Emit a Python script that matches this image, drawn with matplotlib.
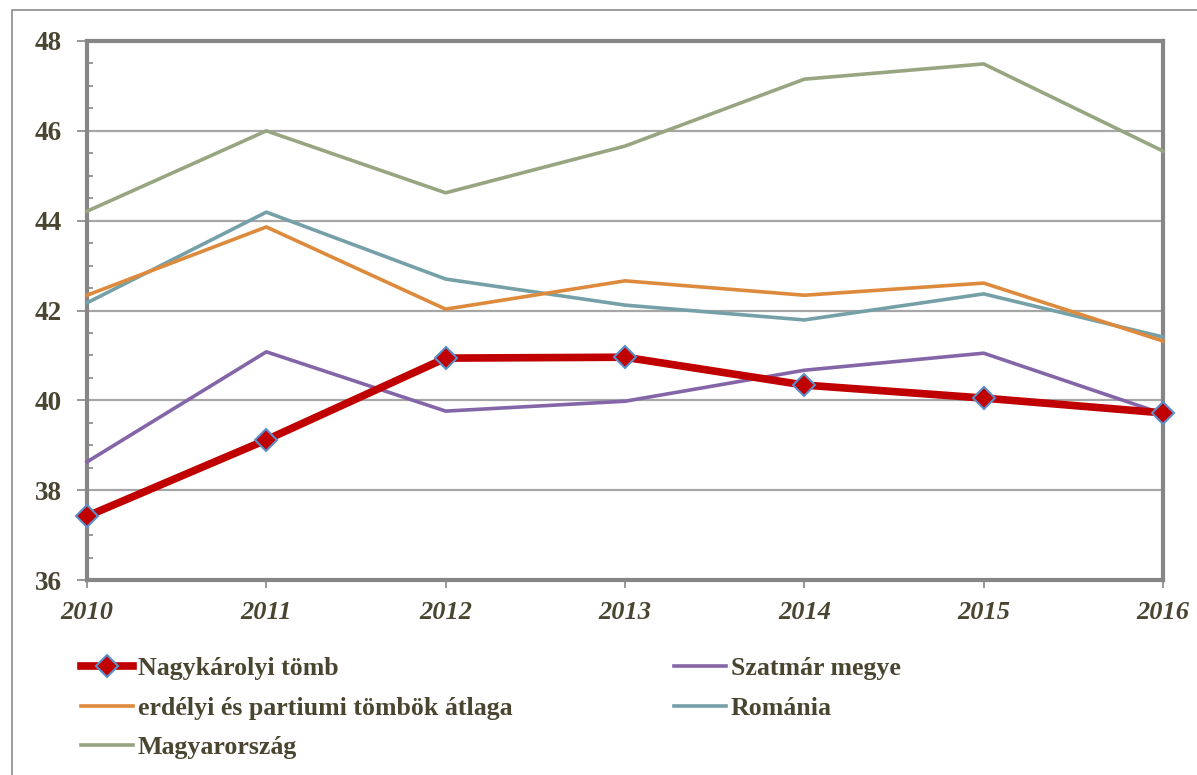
import matplotlib
matplotlib.use("Agg")
import matplotlib.pyplot as plt
from matplotlib.patches import Rectangle
from matplotlib.ticker import MultipleLocator

years = [2010, 2011, 2012, 2013, 2014, 2015, 2016]
nagykaroly = [37.42, 39.12, 40.94, 40.96, 40.34, 40.05, 39.72]
szatmar = [38.63, 41.08, 39.76, 39.98, 40.67, 41.05, 39.70]
erdelyi = [42.34, 43.86, 42.03, 42.66, 42.34, 42.61, 41.32]
romania = [42.17, 44.19, 42.70, 42.12, 41.79, 42.37, 41.41]
magyar = [44.21, 46.00, 44.62, 45.66, 47.15, 47.49, 45.55]

labels = ["Nagykárolyi tömb", "Szatmár megye", "erdélyi és partiumi tömbök átlaga",
          "Románia", "Magyarország"]

txt = "#4A4530"
plt.rcParams['font.family'] = ['Liberation Serif', 'DejaVu Serif']

W, H = 1197, 775
fig = plt.figure(figsize=(W / 100, H / 100), dpi=100)
ax = fig.add_axes([87 / W, (H - 580) / H, (1163 - 87) / W, (580 - 41) / H])

# outer frame
fig.patches.append(Rectangle((12 / W, -0.1), 1.2, 1.1 - 10 / H, transform=fig.transFigure,
                             fill=False, edgecolor="#8C8C8C", linewidth=1.2, clip_on=False))

l_mag, = ax.plot(years, magyar, color="#97A581", lw=2.6, clip_on=False, zorder=3)
l_rom, = ax.plot(years, romania, color="#75A0A8", lw=2.6, clip_on=False, zorder=4)
l_erd, = ax.plot(years, erdelyi, color="#DD8A3C", lw=2.6, clip_on=False, zorder=5)
l_sza, = ax.plot(years, szatmar, color="#8466A8", lw=2.6, clip_on=False, zorder=6)
l_nag, = ax.plot(years, nagykaroly, color="#C00000", lw=5.5, marker="D", markersize=11.5,
                 markerfacecolor="#C00000", markeredgecolor="#5B8FCB", markeredgewidth=1.5,
                 clip_on=False, zorder=7)

ax.set_xlim(2010, 2016)
ax.set_ylim(36, 48)
ax.yaxis.set_major_locator(MultipleLocator(2))
ax.yaxis.set_minor_locator(MultipleLocator(0.5))
ax.set_xticks(years)
ax.set_xticklabels([str(y) for y in years])
ax.grid(axis='y', which='major', color="#A6A6A6", linewidth=1.6, zorder=1)
ax.set_axisbelow(True)

for s in ax.spines.values():
    s.set_color("#868686")
    s.set_linewidth(3)

ax.tick_params(axis='y', which='major', direction='out', length=7, width=1.2, color="#868686",
               pad=11, labelsize=19.5, labelcolor=txt)
ax.tick_params(axis='y', which='minor', direction='in', length=4, width=1.2, color="#868686")
ax.tick_params(axis='x', which='major', direction='out', length=6, width=1.2, color="#868686",
               pad=9, labelsize=19, labelcolor=txt)
for t in ax.get_yticklabels():
    t.set_fontweight('bold')
for t in ax.get_xticklabels():
    t.set_fontweight('bold')
    t.set_fontstyle('italic')

leg_kw = dict(frameon=False, prop={'weight': 'bold', 'size': 18.6}, labelcolor=txt,
              handlelength=2.0, handletextpad=0.2, labelspacing=0.64, borderpad=0,
              borderaxespad=0)
leg1 = fig.legend([l_nag, l_erd, l_mag], [labels[0], labels[2], labels[4]],
                  loc='upper left', bbox_to_anchor=(81 / W, 1 - 657 / H), **leg_kw)
leg2 = fig.legend([l_sza, l_rom], [labels[1], labels[3]],
                  loc='upper left', bbox_to_anchor=(674 / W, 1 - 657 / H), **leg_kw)

fig.savefig("out.png", dpi=100)
